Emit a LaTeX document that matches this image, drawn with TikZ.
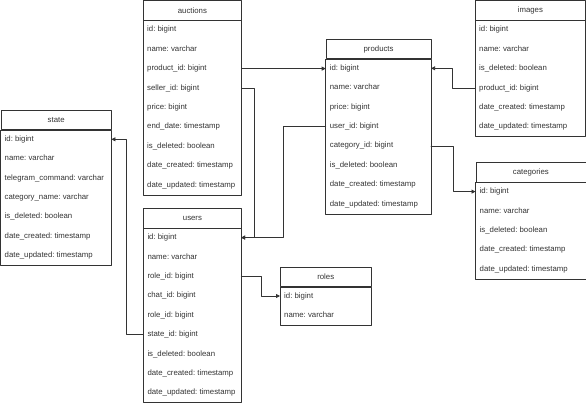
\documentclass[tikz,border=0pt]{standalone}
\usepackage{fontspec}
\setmainfont{Liberation Sans}
\usepackage{tikz}
\usetikzlibrary{arrows.meta}

\begin{document}
\begin{tikzpicture}[x=1pt, y=-1pt, line cap=round, line join=round,
    head/.style={draw=black!80, line width=0.8pt, anchor=north west, minimum height=19.4pt, inner sep=0pt, text=black!80, font=\fontsize{7.8}{9}\selectfont},
    field/.style={anchor=north west, minimum height=19.4pt, inner xsep=4pt, inner ysep=0pt, align=flush left, text=black!80, text height=5.6pt, text depth=1.6pt, font=\fontsize{7.8}{9}\selectfont\frenchspacing},
    frame/.style={draw=black!80, line width=0.8pt},
    fk/.style={draw=black!80, line width=0.8pt, -{Triangle[length=4pt,width=4pt]}}]
    \useasboundingbox (0,0) rectangle (586,404);

    % Tables
    \node[head, minimum width=98pt] (auctions) at (143,0.5) {auctions};
    \foreach \f [count=\i] in {id: bigint, name: varchar, product\_id: bigint, seller\_id: bigint, price: bigint, end\_date: timestamp, is\_deleted: boolean, date\_created: timestamp, date\_updated: timestamp}
      \node[field, text width=90pt] (auctions-\i) at (143, 0.5+19.4*\i) {\f};
    \draw[frame] (auctions.south west) rectangle (auctions-9.south east);

    \node[head, minimum width=110.5pt] (state) at (0.5,110) {state};
    \foreach \f [count=\i] in {id: bigint, name: varchar, telegram\_command: varchar, category\_name: varchar, is\_deleted: boolean, date\_created: timestamp, date\_updated: timestamp}
      \node[field, text width=102.5pt] (state-\i) at (0.5, 110+19.4*\i) {\f};
    \draw[frame] (state.south west) rectangle (state-7.south east);

    \node[head, minimum width=105pt] (products) at (325.7,39) {products};
    \foreach \f [count=\i] in {id: bigint, name: varchar, price: bigint, user\_id: bigint, category\_id: bigint, is\_deleted: boolean, date\_created: timestamp, date\_updated: timestamp}
      \node[field, text width=97pt] (products-\i) at (325.7, 39+19.4*\i) {\f};
    \draw[frame] (products.south west) rectangle (products-8.south east);

    \node[head, minimum width=110pt] (images) at (475,0.5) {images};
    \foreach \f [count=\i] in {id: bigint, name: varchar, is\_deleted: boolean, product\_id: bigint, date\_created: timestamp, date\_updated: timestamp}
      \node[field, text width=102pt] (images-\i) at (475, 0.5+19.4*\i) {\f};
    \draw[frame] (images.south west) rectangle (images-6.south east);

    \node[head, minimum width=110pt] (categories) at (475.5,162.3) {categories};
    \foreach \f [count=\i] in {id: bigint, name: varchar, is\_deleted: boolean, date\_created: timestamp, date\_updated: timestamp}
      \node[field, text width=102pt] (categories-\i) at (475.5, 162.3+19.4*\i) {\f};
    \draw[frame] (categories.south west) rectangle (categories-5.south east);

    \node[head, minimum width=97.5pt] (users) at (143.3,208.3) {users};
    \foreach \f [count=\i] in {id: bigint, name: varchar, role\_id: bigint, chat\_id: bigint, role\_id: bigint, state\_id: bigint, is\_deleted: boolean, date\_created: timestamp, date\_updated: timestamp}
      \node[field, text width=89.5pt] (users-\i) at (143.3, 208.3+19.4*\i) {\f};
    \draw[frame] (users.south west) rectangle (users-9.south east);

    \node[head, minimum width=90.7pt] (roles) at (280,266.7) {roles};
    \foreach \f [count=\i] in {id: bigint, name: varchar}
      \node[field, text width=82.7pt] (roles-\i) at (280, 266.7+19.4*\i) {\f};
    \draw[frame] (roles.south west) rectangle (roles-2.south east);

    % Connections
    \draw[fk] (auctions-3.east) -- (auctions-3.east -| products-1.west);
    \draw[fk] (auctions-4.east) -- ++(13,0) |- (users-1.east);
    \draw[fk] (products-4.west) -- ++(-42,0) |- (users-1.east);
    \draw[fk] (images-4.west) -- ++(-22.5,0) |- (products-1.east);
    \draw[fk] (products-5.east) -- ++(22,0) |- (categories-1.west);
    \draw[fk] (users-3.east) -- ++(20,0) |- (roles-1.west);
    \draw[fk] (users-6.west) -- ++(-16.5,0) |- (state-1.east);
  \end{tikzpicture}
\end{document}
